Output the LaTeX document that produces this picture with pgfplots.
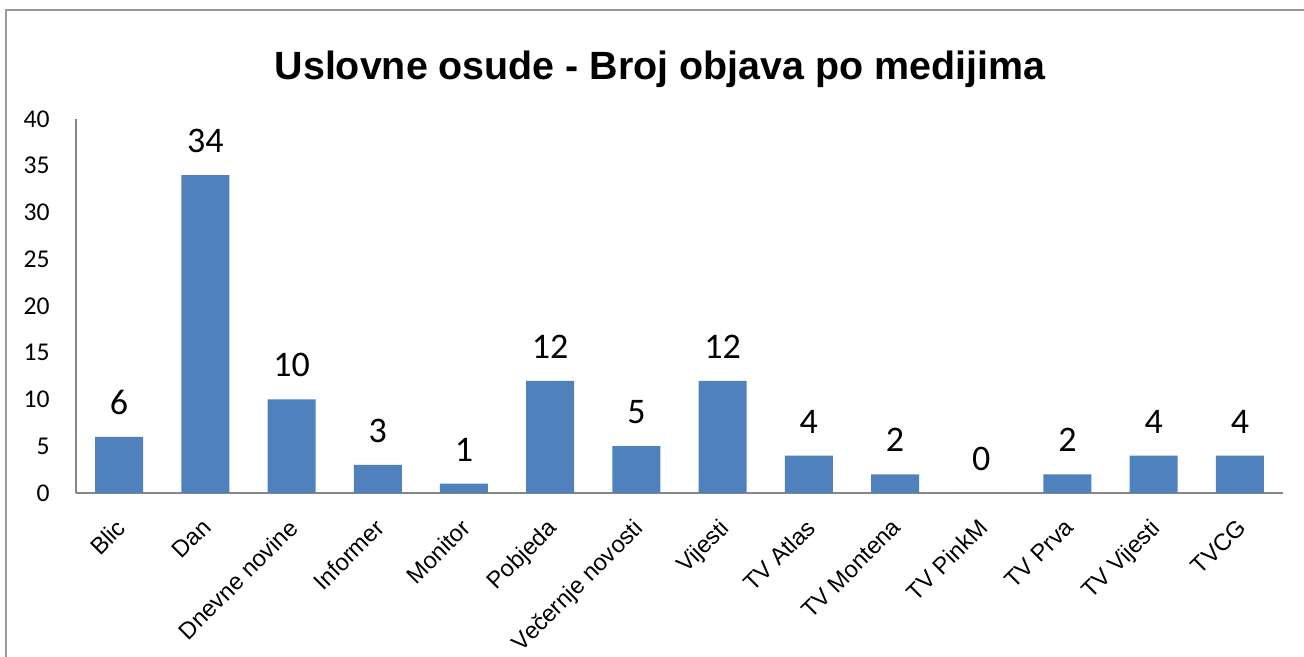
\documentclass[border=0pt]{standalone}
\usepackage{pgfplots}
\pgfplotsset{compat=1.18}
\usepackage{fontspec}
\setmainfont{Liberation Sans}
\newfontfamily\calibri{Carlito}
\definecolor{barblue}{HTML}{4F81BD}
\definecolor{axgray}{HTML}{868686}
\definecolor{framegray}{HTML}{999999}
\begin{document}
\begin{tikzpicture}[x=1pt,y=1pt]
\useasboundingbox (0,0) rectangle (652,328.5);
\draw[framegray, line width=1pt] (3,0) -- (3,323.5) -- (652,323.5);
\node[font=\fontsize{19.7}{22}\selectfont\bfseries, anchor=base, inner sep=0pt] at (330,288.5) {Uslovne osude - Broj objava po medijima};
\begin{axis}[
  at={(38pt,82pt)}, anchor=south west,
  scale only axis, width=603.5pt, height=187pt,
  ybar, bar width=24pt,
  xmin=-0.5, xmax=13.5, ymin=0, ymax=40,
  ytick={0,5,...,40},
  xtick=data,
  xticklabels={Blic,Dan,Dnevne novine,Informer,Monitor,Pobjeda,Večernje novosti,Vijesti,TV Atlas,TV Montena,TV PinkM,TV Prva,TV Vijesti,TVCG},
  axis x line*=bottom, axis y line*=left,
  axis line style={-, axgray, line width=1pt},
  major tick length=0pt,
  /pgf/number format/assume math mode=true,
  yticklabel style={font=\calibri\fontsize{12.8}{14}\selectfont, anchor=east, inner sep=0pt, xshift=-13pt},
  xticklabel style={font=\fontsize{11.8}{13}\selectfont, rotate=45, anchor=north east, inner sep=0pt, xshift=-10pt, yshift=-7pt},
  nodes near coords,
  every node near coord/.append style={font=\calibri\fontsize{18}{20}\selectfont, anchor=south, inner sep=0pt, yshift=11pt, text=black},
]
\addplot[fill=barblue, draw=none] coordinates {
(0,6) (1,34) (2,10) (3,3) (4,1) (5,12) (6,5) (7,12) (8,4) (9,2) (10,0) (11,2) (12,4) (13,4)
};
\end{axis}
\end{tikzpicture}
\end{document}
